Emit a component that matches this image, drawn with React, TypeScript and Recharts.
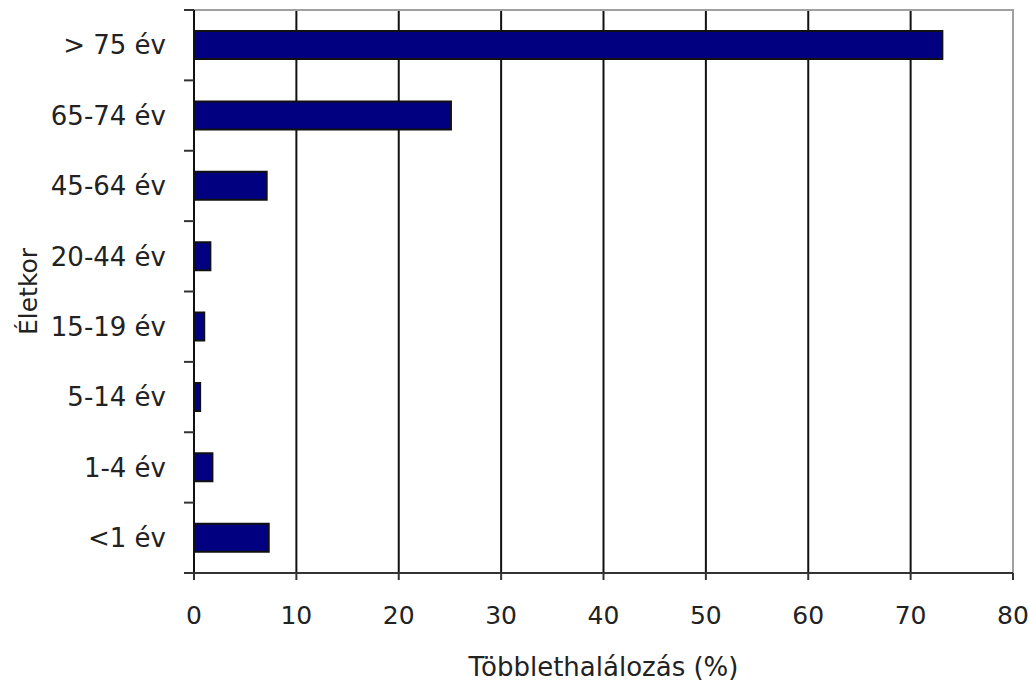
import { BarChart, Bar, XAxis, YAxis, CartesianGrid, ReferenceArea } from 'recharts';

const ageGroups = ['> 75 év', '65-74 év', '45-64 év', '20-44 év', '15-19 év', '5-14 év', '1-4 év', '<1 év'];
const excessDeaths = [73.1, 25.1, 7.1, 1.6, 1.0, 0.6, 1.8, 7.3];
const xTicks = [0, 10, 20, 30, 40, 50, 60, 70, 80];

const data = ageGroups.map((age, i) => ({ age, value: excessDeaths[i] }));

const font = '"DejaVu Sans", Verdana, sans-serif';
const TICK_SIZE = 6;
const TICK_MARGIN = 22;
const MARK_LEN = 10;

// category label + Excel-style tick marks between the categories
const CategoryTick = (props: any) => {
    const { x, y, payload, height, visibleTicksCount, index } = props;
    const half = height / visibleTicksCount / 2;
    const edge = x + TICK_SIZE + TICK_MARGIN;
    return (
        <g>
            <text
                x={x}
                y={y}
                dy="0.355em"
                textAnchor="end"
                fill="#222"
                fontSize={26}
                fontFamily={font}
            >
                {payload.value}
            </text>
            <line x1={edge - MARK_LEN} x2={edge} y1={y - half} y2={y - half} stroke="#333" strokeWidth={2} />
            {index === visibleTicksCount - 1 && (
                <line x1={edge - MARK_LEN} x2={edge} y1={y + half} y2={y + half} stroke="#333" strokeWidth={2} />
            )}
        </g>
    );
};

export default function App() {
    return (
        <div style={{ position: 'absolute', left: 0, top: 0, background: '#fff' }}>
            <BarChart
                width={1030}
                height={684}
                data={data}
                layout="vertical"
                barCategoryGap="30%"
                margin={{ top: 10, right: 17, bottom: 0, left: 0 }}
            >
                <CartesianGrid xAxisId="x" yAxisId="cat" horizontal={false} stroke="#111" strokeWidth={2} />
                <ReferenceArea
                    xAxisId="x"
                    yAxisId="cat"
                    x1={0}
                    x2={80}
                    fill="none"
                    stroke="#a0a0a0"
                    strokeWidth={2}
                />
                <YAxis
                    yAxisId="cat"
                    type="category"
                    dataKey="age"
                    width={194}
                    axisLine={{ stroke: '#111', strokeWidth: 2 }}
                    tickLine={false}
                    tickSize={TICK_SIZE}
                    tickMargin={TICK_MARGIN}
                    tick={<CategoryTick />}
                    label={{
                        value: 'Életkor',
                        angle: -90,
                        position: 'insideLeft',
                        offset: 28,
                        style: { textAnchor: 'middle', fill: '#222', fontSize: 25, fontFamily: font },
                    }}
                />
                <XAxis
                    xAxisId="x"
                    type="number"
                    domain={[0, 80]}
                    ticks={xTicks}
                    height={111}
                    axisLine={{ stroke: '#333', strokeWidth: 2 }}
                    tickLine={{ stroke: '#333', strokeWidth: 2 }}
                    tickSize={7}
                    tickMargin={26}
                    tick={{ fill: '#222', fontSize: 25, fontFamily: font }}
                    label={{
                        value: 'Többlethalálozás (%)',
                        position: 'insideBottom',
                        offset: 8,
                        style: { fill: '#222', fontSize: 26, fontFamily: font },
                    }}
                />
                <Bar
                    xAxisId="x"
                    yAxisId="cat"
                    dataKey="value"
                    fill="#000080"
                    stroke="#111"
                    strokeWidth={2}
                    isAnimationActive={false}
                />
            </BarChart>
        </div>
    );
}
